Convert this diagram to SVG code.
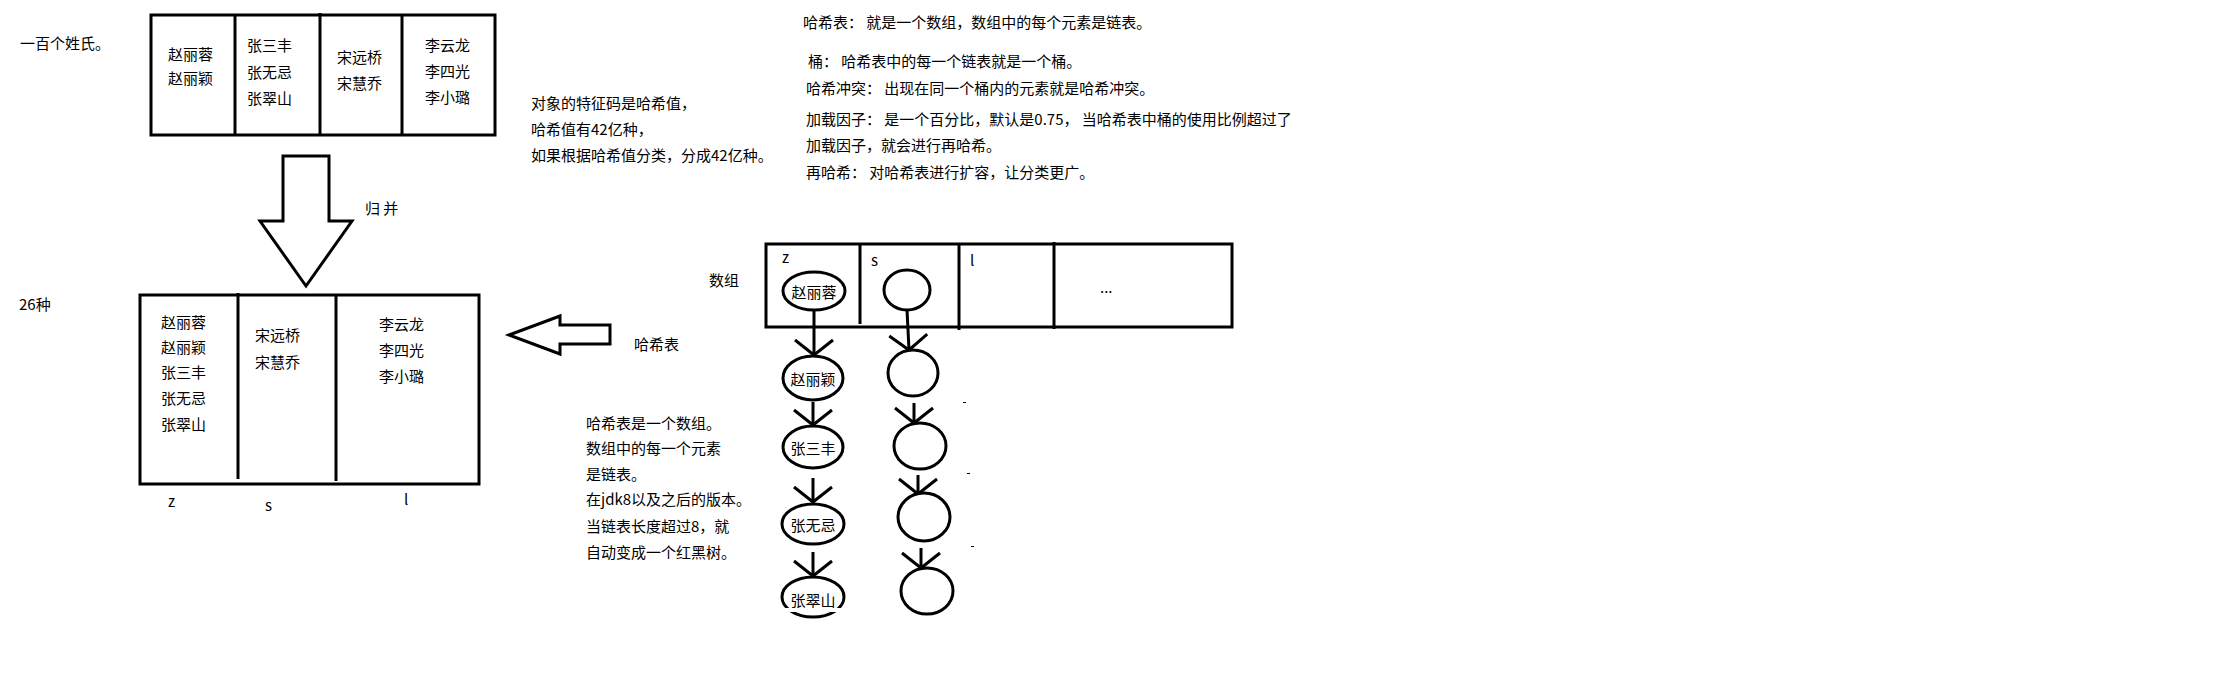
<svg xmlns="http://www.w3.org/2000/svg" width="2220" height="683" viewBox="0 0 2220 683">
<defs>
<style>
text{font-family:"Noto Sans CJK SC","Noto Sans",sans-serif;font-size:15px;fill:#000;dominant-baseline:central}
.lat{dominant-baseline:alphabetic}
.mid{text-anchor:middle}
.box{fill:none;stroke:#000;stroke-width:3}
.div{stroke:#000;stroke-width:3;fill:none}
.node{fill:#fff;stroke:#000;stroke-width:3}
.big{fill:#fff;stroke:#000;stroke-width:3;stroke-linejoin:miter}
.link{stroke:#000;stroke-width:3;fill:none;marker-end:url(#chev)}
.dash{fill:#000}
</style>
<marker id="chev" markerUnits="userSpaceOnUse" markerWidth="50" markerHeight="50" viewBox="-25 -25 50 50" refX="0" refY="0" orient="auto" overflow="visible">
<path d="M-15,-19 L0,0 L-15,19" fill="none" stroke="#000" stroke-width="3"/>
</marker>
<clipPath id="gap">
<rect x="760" y="560" width="110" height="48"/>
<rect x="760" y="612" width="110" height="20"/>
</clipPath>
</defs>
<rect width="2220" height="683" fill="#fff"/>

<g id="label-surnames"><text x="20" y="42">一百个姓氏。</text></g>

<g id="top-box">
<rect class="box" x="151" y="15" width="344" height="120"/>
<line class="div" x1="235" y1="15" x2="235" y2="135"/>
<line class="div" x1="320" y1="13" x2="320" y2="135"/>
<line class="div" x1="402" y1="15" x2="402" y2="135"/>
<text x="168" y="53">赵丽蓉</text>
<text x="168" y="77">赵丽颖</text>
<text x="247" y="44">张三丰</text>
<text x="247" y="71">张无忌</text>
<text x="247" y="97">张翠山</text>
<text x="337" y="56">宋远桥</text>
<text x="337" y="82">宋慧乔</text>
<text x="425" y="44">李云龙</text>
<text x="425" y="70">李四光</text>
<text x="425" y="96">李小璐</text>
</g>

<g id="merge-arrow">
<polygon class="big" points="283,156 329,156 329,221 352,221 306,286 260,221 283,221"/>
<text x="365" y="207">归 并</text>
</g>

<g id="hash-info">
<text x="531" y="102">对象的特征码是哈希值，</text>
<text x="531" y="128">哈希值有42亿种，</text>
<text x="531" y="154">如果根据哈希值分类，分成42亿种。</text>
</g>

<g id="notes">
<text x="803" y="21">哈希表： 就是一个数组，数组中的每个元素是链表。</text>
<text x="808" y="60">桶： 哈希表中的每一个链表就是一个桶。</text>
<text x="806" y="87">哈希冲突： 出现在同一个桶内的元素就是哈希冲突。</text>
<text x="806" y="118">加载因子： 是一个百分比，默认是0.75， 当哈希表中桶的使用比例超过了</text>
<text x="806" y="144">加载因子，就会进行再哈希。</text>
<text x="806" y="171">再哈希： 对哈希表进行扩容，让分类更广。</text>
</g>

<g id="label-26"><text x="19" y="303">26种</text></g>

<g id="bottom-box">
<rect class="box" x="140" y="295" width="339" height="189"/>
<line class="div" x1="238" y1="293" x2="238" y2="479"/>
<line class="div" x1="336" y1="295" x2="336" y2="481"/>
<text x="161" y="321">赵丽蓉</text>
<text x="161" y="346">赵丽颖</text>
<text x="161" y="371">张三丰</text>
<text x="161" y="397">张无忌</text>
<text x="161" y="423">张翠山</text>
<text x="255" y="334">宋远桥</text>
<text x="255" y="361">宋慧乔</text>
<text x="379" y="323">李云龙</text>
<text x="379" y="349">李四光</text>
<text x="379" y="375">李小璐</text>
<text class="lat" x="168" y="507">z</text>
<text class="lat" x="265" y="511">s</text>
<text class="lat" x="404" y="505">l</text>
</g>

<g id="hashtable-arrow">
<polygon class="big" points="509,335 560,316 560,325 610,325 610,344 560,344 560,354"/>
<text x="634" y="343">哈希表</text>
</g>

<g id="label-array"><text x="709" y="279">数组</text></g>

<g id="array-box">
<rect class="box" x="766" y="244" width="466" height="83"/>
<line class="div" x1="860" y1="244" x2="860" y2="324"/>
<line class="div" x1="959" y1="244" x2="959" y2="330"/>
<line class="div" x1="1054" y1="242" x2="1054" y2="329"/>
<text class="lat" x="782" y="263">z</text>
<text class="lat" x="871" y="266">s</text>
<text class="lat" x="970" y="266">l</text>
<text class="lat" x="1100" y="293">...</text>
</g>

<g id="list-text">
<text x="586" y="422">哈希表是一个数组。</text>
<text x="586" y="447">数组中的每一个元素</text>
<text x="586" y="473">是链表。</text>
<text x="586" y="498">在jdk8以及之后的版本。</text>
<text x="586" y="525">当链表长度超过8，就</text>
<text x="586" y="551">自动变成一个红黑树。</text>
</g>

<g id="connectors">
<line class="link" x1="814" y1="310" x2="814" y2="355"/>
<line class="link" x1="813" y1="402" x2="813" y2="425"/>
<line class="link" x1="813" y1="478" x2="813" y2="502"/>
<line class="link" x1="813" y1="552" x2="813" y2="576"/>
<line class="link" x1="907" y1="310" x2="909" y2="350"/>
<line class="link" x1="914" y1="403" x2="914" y2="423"/>
<line class="link" x1="918" y1="475" x2="918" y2="494"/>
<line class="link" x1="921" y1="548" x2="921" y2="568"/>
</g>

<g id="node-zhaolirong"><ellipse class="node" cx="814" cy="291" rx="31" ry="19"/><text class="mid" x="814" y="291">赵丽蓉</text></g>
<g id="node-s0"><ellipse class="node" cx="907" cy="290" rx="23" ry="20"/></g>
<g id="node-zhaoliying"><ellipse class="node" cx="813" cy="378" rx="30" ry="22"/><text class="mid" x="813" y="378">赵丽颖</text></g>
<g id="node-zhangsanfeng"><ellipse class="node" cx="813" cy="447" rx="30" ry="21"/><text class="mid" x="813" y="447">张三丰</text></g>
<g id="node-zhangwuji"><ellipse class="node" cx="813" cy="524" rx="31" ry="20"/><text class="mid" x="813" y="524">张无忌</text></g>
<g id="node-zhangcuishan"><ellipse class="node" cx="813" cy="597" rx="31" ry="20" clip-path="url(#gap)"/><text class="mid" x="813" y="599">张翠山</text></g>
<g id="node-s1"><ellipse class="node" cx="913" cy="373" rx="25" ry="23"/></g>
<g id="node-s2"><ellipse class="node" cx="920" cy="446" rx="26" ry="23"/></g>
<g id="node-s3"><ellipse class="node" cx="924" cy="517" rx="26" ry="24"/></g>
<g id="node-s4"><ellipse class="node" cx="927" cy="591" rx="26" ry="23"/></g>

<g id="marks">
<rect class="dash" x="963" y="402" width="3" height="1"/>
<rect class="dash" x="967" y="473" width="3" height="1"/>
<rect class="dash" x="971" y="546" width="3" height="1"/>
</g>
</svg>
